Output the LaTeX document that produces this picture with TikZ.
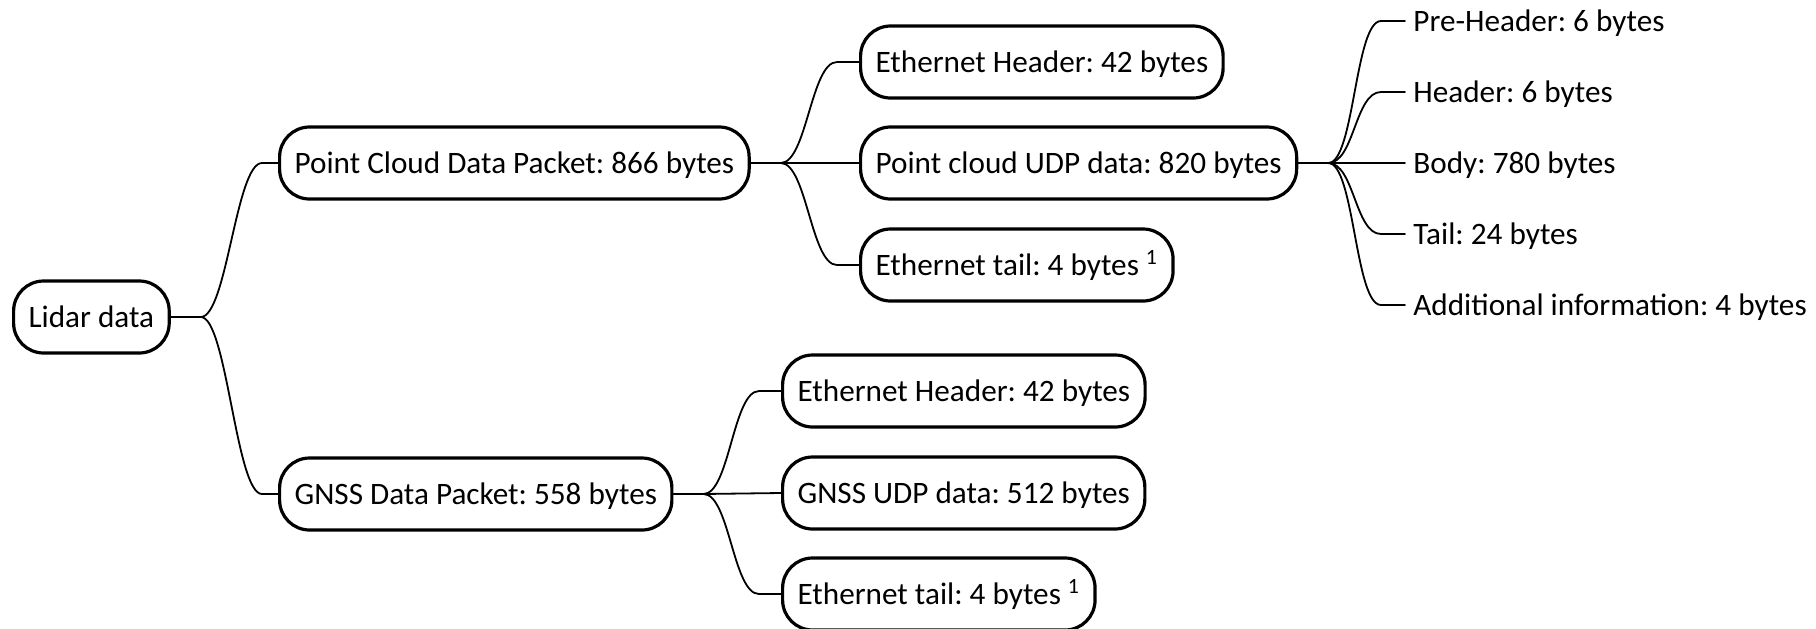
\documentclass[tikz,border=0pt]{standalone}
\usepackage{fontspec}
\setmainfont{Carlito}
\frenchspacing
\tikzset{
    topic/.style={draw, line width=1.6pt, rounded corners=15pt, anchor=west, inner xsep=7.5pt,
        minimum height=36pt, text height=13pt, text depth=3pt, font=\fontsize{15.6}{19}\selectfont},
    leaf/.style={anchor=west, inner xsep=4pt, text height=13pt, text depth=3pt,
        font=\fontsize{15.6}{19}\selectfont},
    link/.style={line width=0.9pt, line cap=round},
}

\begin{document}
\begin{tikzpicture}[x=0.5pt, y=-0.5pt]
    \useasboundingbox (0,0) rectangle (1816,628);
    \node[topic] (lidar) at (12,317) {Lidar data};
    \node[topic] (pc) at (278,163) {Point Cloud Data Packet: 866 bytes};
    \node[topic] (gnss) at (278,494) {GNSS Data Packet: 558 bytes};
    \node[topic] (pceth) at (859,62) {Ethernet Header: 42 bytes};
    \node[topic] (pcudp) at (859,163) {Point cloud UDP data: 820 bytes};
    \node[topic] (pctail) at (859,265) {Ethernet tail: 4 bytes \textsuperscript{1}};
    \node[topic] (gnsseth) at (781,391) {Ethernet Header: 42 bytes};
    \node[topic] (gnssudp) at (781,493) {GNSS UDP data: 512 bytes};
    \node[topic] (gnsstail) at (781,594) {Ethernet tail: 4 bytes \textsuperscript{1}};
    \node[leaf] (prehead) at (1405,21) {Pre-Header: 6 bytes};
    \node[leaf] (head) at (1405,92) {Header: 6 bytes};
    \node[leaf] (body) at (1405,163) {Body: 780 bytes};
    \node[leaf] (tail) at (1405,234) {Tail: 24 bytes};
    \node[leaf] (addinfo) at (1405,305) {Additional information: 4 bytes};
    % forks
    \draw[link] (lidar.east) -- ++(15pt,0) coordinate (lidarfork);
    \draw[link] (pc.east) -- ++(15pt,0) coordinate (pcfork);
    \draw[link] (gnss.east) -- ++(15pt,0) coordinate (gnssfork);
    \draw[link] (pcudp.east) -- ++(15pt,0) coordinate (udpfork);
    % branches
    \draw[link] (lidarfork) .. controls +(13pt,0) and +(-13pt,0) .. ([xshift=-8pt]pc.west) -- (pc.west);
    \draw[link] (lidarfork) .. controls +(13pt,0) and +(-13pt,0) .. ([xshift=-8pt]gnss.west) -- (gnss.west);
    \draw[link] (pcfork) .. controls +(13pt,0) and +(-13pt,0) .. ([xshift=-11pt]pceth.west) -- (pceth.west);
    \draw[link] (pcfork) -- (pcudp.west);
    \draw[link] (pcfork) .. controls +(13pt,0) and +(-13pt,0) .. ([xshift=-11pt]pctail.west) -- (pctail.west);
    \draw[link] (gnssfork) .. controls +(13pt,0) and +(-13pt,0) .. ([xshift=-11pt]gnsseth.west) -- (gnsseth.west);
    \draw[link] (gnssfork) -- (gnssudp.west);
    \draw[link] (gnssfork) .. controls +(13pt,0) and +(-13pt,0) .. ([xshift=-11pt]gnsstail.west) -- (gnsstail.west);
    \draw[link] (udpfork) .. controls +(13pt,0) and +(-13pt,0) .. ([xshift=-12pt]prehead.west) -- (prehead.west);
    \draw[link] (udpfork) .. controls +(13pt,0) and +(-13pt,0) .. ([xshift=-12pt]head.west) -- (head.west);
    \draw[link] (udpfork) -- (body.west);
    \draw[link] (udpfork) .. controls +(13pt,0) and +(-13pt,0) .. ([xshift=-12pt]tail.west) -- (tail.west);
    \draw[link] (udpfork) .. controls +(13pt,0) and +(-13pt,0) .. ([xshift=-12pt]addinfo.west) -- (addinfo.west);
\end{tikzpicture}
\end{document}
